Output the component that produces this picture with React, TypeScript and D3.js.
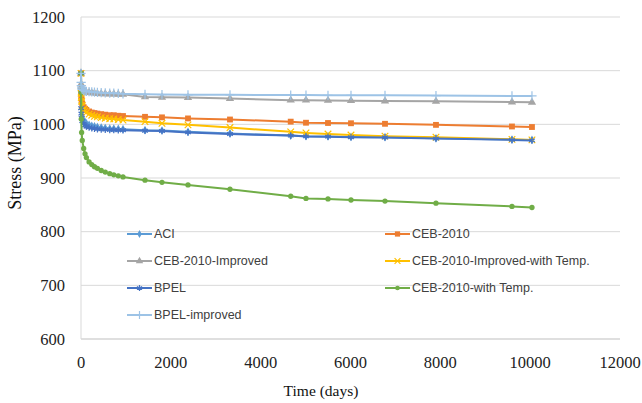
import React from 'react';
import * as d3 from 'd3';

// time points (days)
const days = [0, 3, 7, 14, 28, 60, 90, 120, 180, 240, 300, 365, 450, 540, 640, 730, 830, 935,
  1425, 1803, 2382, 3317, 4669, 5009, 5499, 6011, 6768, 7903, 9595, 10040];

const aci = [1095, 1040, 1030, 1022, 1015, 1008, 1004, 1002, 999, 997, 996, 995, 994, 993, 992, 992, 991.5, 991,
  989, 988.5, 986, 983, 979, 978, 977.5, 976.5, 976, 974, 971.5, 971];
const ceb = [1095, 1060, 1052, 1045, 1038, 1032, 1029, 1027, 1024, 1022, 1021, 1020, 1019, 1018, 1017, 1017, 1016, 1015.5,
  1014, 1013, 1011, 1009, 1005, 1003, 1002.5, 1002, 1001, 999, 996, 995];
const cebImproved = [1095, 1075, 1070, 1066, 1063, 1061, 1060, 1059.5, 1059, 1058.5, 1058, 1057.5, 1057, 1057, 1056.5, 1056.5, 1056, 1056,
  1051, 1050.5, 1050, 1048, 1045, 1045, 1044.5, 1044, 1043.5, 1043, 1041.5, 1041];
const cebImprovedTemp = [1095, 1058, 1050, 1043, 1035, 1028, 1025, 1022, 1019, 1017, 1015, 1014, 1012.5, 1011.5, 1010.5, 1010, 1009, 1008,
  1005, 1002, 999, 994, 986, 984, 982, 980, 978, 976, 972, 971];
const bpel = [1095, 1030, 1020, 1012, 1006, 1001, 998, 996, 994, 993, 992, 991, 990.5, 990, 989.5, 989.5, 989, 989,
  988, 987.5, 985, 982, 979, 977.5, 977, 976, 975.5, 973.5, 971, 970];
const cebTemp = [1095, 1060, 1010, 985, 970, 955, 945, 938, 930, 925, 921, 918, 914, 911, 908, 906, 904, 902,
  896, 892, 887, 879, 866, 862, 861, 859, 857, 853, 847, 845];
const bpelImproved = [1095, 1078, 1072, 1068, 1065, 1063, 1062, 1061.5, 1061, 1060.5, 1060, 1059.5, 1059, 1058.5, 1058, 1058, 1057.5, 1057,
  1056, 1055.5, 1055, 1055, 1054.5, 1054.5, 1054, 1054, 1054, 1053.5, 1053, 1053];

const series = [
  { name: 'ACI', values: aci, color: '#5B9BD5', symbol: d3.symbolDiamond, size: 22, fill: true },
  { name: 'CEB-2010', values: ceb, color: '#ED7D31', symbol: d3.symbolSquare, size: 34, fill: true },
  { name: 'CEB-2010-Improved', values: cebImproved, color: '#A5A5A5', symbol: d3.symbolTriangle, size: 30, fill: true },
  { name: 'CEB-2010-Improved-with Temp.', values: cebImprovedTemp, color: '#FFC000', symbol: d3.symbolTimes, size: 30, fill: false },
  { name: 'BPEL', values: bpel, color: '#4472C4', symbol: d3.symbolAsterisk, size: 30, fill: false },
  { name: 'CEB-2010-with Temp.', values: cebTemp, color: '#70AD47', symbol: d3.symbolCircle, size: 22, fill: true },
  { name: 'BPEL-improved', values: bpelImproved, color: '#9DC3E6', symbol: d3.symbolPlus, size: 30, fill: false },
];

const xTicks = [0, 2000, 4000, 6000, 8000, 10000, 12000];
const yTicks = [600, 700, 800, 900, 1000, 1100, 1200];

const W = 642, H = 403;
const x = d3.scaleLinear().domain([0, 12000]).range([81, 620]);
const y = d3.scaleLinear().domain([600, 1200]).range([339, 17]);

export default function App() {
  const line = d3.line<number>().x((_, i) => x(days[i])).y((d) => y(d));

  // legend layout: two columns, four rows
  const legendPos = series.map((_, i) => ({
    lx: i % 2 === 0 ? 127 : 385,
    ly: 234 + Math.floor(i / 2) * 27,
  }));

  return (
    <svg width={W} height={H} style={{ position: 'absolute', left: 0, top: 0, background: '#fff' }}>
      {yTicks.slice(1).map((t) => (
        <line key={t} x1={x(0)} x2={x(12000)} y1={y(t)} y2={y(t)} stroke="#D9D9D9" strokeWidth={1} />
      ))}
      <line x1={x(0)} x2={x(12000)} y1={y(600)} y2={y(600)} stroke="#BFBFBF" strokeWidth={1} />
      <line x1={x(0)} x2={x(0)} y1={y(600)} y2={y(1200)} stroke="#D9D9D9" strokeWidth={1} />

      {yTicks.map((t) => (
        <text key={t} x={65} y={y(t)} dy="0.35em" textAnchor="end" fontFamily="Liberation Serif" fontSize={16.5} fill="#222">{t}</text>
      ))}
      {xTicks.map((t) => (
        <text key={t} x={x(t)} y={368} textAnchor="middle" fontFamily="Liberation Serif" fontSize={16.5} fill="#222">{t}</text>
      ))}
      <text x={321} y={396} textAnchor="middle" fontFamily="Liberation Serif" fontSize={15.5} fill="#111">Time (days)</text>
      <text transform="translate(21,163) rotate(-90)" textAnchor="middle" fontFamily="Liberation Serif" fontSize={18} fill="#111">Stress (MPa)</text>

      {series.map((s) => (
        <g key={s.name}>
          <path d={line(s.values) || ''} fill="none" stroke={s.color} strokeWidth={2} />
          {s.values.map((v, i) => (
            <path key={i} transform={`translate(${x(days[i])},${y(v)})`}
              d={d3.symbol(s.symbol, s.size)() || ''}
              fill={s.fill ? s.color : 'none'} stroke={s.color} strokeWidth={s.fill ? 0 : 1.2} />
          ))}
        </g>
      ))}

      {series.map((s, i) => {
        const { lx, ly } = legendPos[i];
        return (
          <g key={s.name}>
            <line x1={lx} x2={lx + 25} y1={ly} y2={ly} stroke={s.color} strokeWidth={2} />
            <path transform={`translate(${lx + 12.5},${ly})`} d={d3.symbol(s.symbol, s.size * 0.8)() || ''}
              fill={s.fill ? s.color : 'none'} stroke={s.color} strokeWidth={s.fill ? 0 : 1.2} />
            <text x={lx + 27} y={ly} dy="0.35em" fontFamily="Liberation Sans" fontSize={12.5} fill="#404040">{s.name}</text>
          </g>
        );
      })}
    </svg>
  );
}
